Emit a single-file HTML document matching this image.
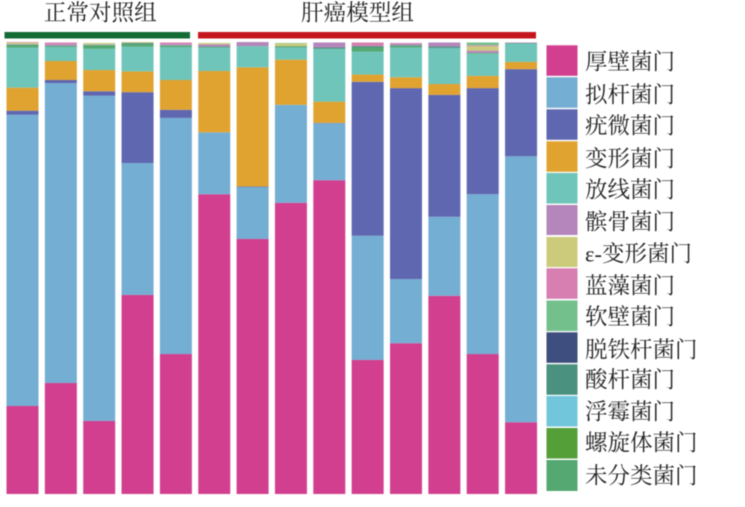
<!DOCTYPE html>
<html lang="zh">
<head>
<meta charset="utf-8">
<title>门水平菌群构成</title>
<style>
html,body{margin:0;padding:0;background:#fff;width:745px;height:507px;overflow:hidden}
svg{display:block;filter:blur(0.4px)}
text{font-family:"Liberation Serif","Noto Serif CJK SC",serif;fill:#222}
.g{font-size:22.6px}
.l{font-size:22.5px;dominant-baseline:central}
</style>
</head>
<body>
<svg id="chart" width="745" height="507" viewBox="0 0 745 507" xmlns="http://www.w3.org/2000/svg">
  <g id="bars"></g>

  <text class="g" x="100.3" y="20.5" text-anchor="middle">正常对照组</text>
  <text class="g" x="357.5" y="20.5" text-anchor="middle">肝癌模型组</text>
  <rect x="4.5" y="32" width="185.5" height="6.5" fill="#156b36"/>
  <rect x="198" y="32" width="338" height="6.5" fill="#c4161c"/>

  <g>
    <rect x="546.5" y="45.3" width="31" height="30.5" fill="#d23f8f"/>
    <rect x="546.5" y="77.3" width="31" height="30.5" fill="#74aed3"/>
    <rect x="546.5" y="109.3" width="31" height="30.5" fill="#5f67b0"/>
    <rect x="546.5" y="141.3" width="31" height="30.5" fill="#e1a330"/>
    <rect x="546.5" y="173" width="31" height="30.5" fill="#6fc5b9"/>
    <rect x="546.5" y="205" width="31" height="30" fill="#b486bb"/>
    <rect x="546.5" y="237" width="31" height="30" fill="#cccb7c"/>
    <rect x="546.5" y="268.3" width="31" height="30.5" fill="#d67fb0"/>
    <rect x="546.5" y="300.5" width="31" height="30.5" fill="#74c08d"/>
    <rect x="546.5" y="332.3" width="31" height="30.5" fill="#3e4e7e"/>
    <rect x="546.5" y="364.3" width="31" height="30.5" fill="#4a927f"/>
    <rect x="546.5" y="396" width="31" height="30.5" fill="#72c6dc"/>
    <rect x="546.5" y="428" width="31" height="30.5" fill="#559f39"/>
    <rect x="546.5" y="460" width="31" height="31" fill="#55a871"/>

    <text class="l" x="585" y="62">厚壁菌门</text>
    <text class="l" x="585" y="95">拟杆菌门</text>
    <text class="l" x="585" y="126">疣微菌门</text>
    <text class="l" x="585" y="159">变形菌门</text>
    <text class="l" x="585" y="190">放线菌门</text>
    <text class="l" x="585" y="222">髌骨菌门</text>
    <text class="l" x="585" y="254">ε-变形菌门</text>
    <text class="l" x="585" y="286">蓝藻菌门</text>
    <text class="l" x="585" y="317">软壁菌门</text>
    <text class="l" x="585" y="350">脱铁杆菌门</text>
    <text class="l" x="585" y="380">酸杆菌门</text>
    <text class="l" x="585" y="412">浮霉菌门</text>
    <text class="l" x="585" y="443">螺旋体菌门</text>
    <text class="l" x="585" y="476">未分类菌门</text>
  </g>
</svg>
<script>
var samples = ["c1","c2","c3","c4","c5","m1","m2","m3","m4","m5","m6","m7","m8","m9"];
var firmicutes = [19.5,24.6,16.2,44.1,31.0,66.4,56.5,64.5,69.5,29.7,33.4,43.9,31.0,15.9];
var bacteroidetes = [64.5,66.4,72.0,29.2,52.3,13.7,11.5,21.7,12.6,27.5,14.2,17.5,35.4,58.9];
var verrucomicrobia = [0.9,0.7,1.0,15.7,1.8,0,0.1,0,0.1,34.1,42.3,27.0,23.5,19.3];
var proteobacteria = [5.1,4.2,4.7,4.6,6.6,13.6,26.4,10.0,4.7,1.6,2.4,2.4,2.7,1.6];
var actinobacteria = [8.9,3.1,4.7,5.5,7.3,5.2,4.7,2.7,11.7,5.1,6.6,8.0,4.9,4.1];
var unclassified = [0.6,0.2,0.8,0.5,0.3,0.1,0,0.2,0,0.9,0.3,0,0.2,0];
var acidobacteria = [0.1,0.1,0.1,0.3,0.1,0.1,0,0.1,0.3,0.3,0.2,0.3,0,0.1];
var tenericutes = [0.1,0.3,0.1,0,0.2,0.5,0.9,0,1.1,0,0.3,0.9,0.5,0];
var epsilon = [0.3,0,0.3,0.2,0,0.3,0,0.6,0,0,0,0,1.0,0];
var cyanobacteria = [0.1,0.4,0,0,0.4,0,0,0,0,0.8,0.2,0,0.2,0.1];
var softWall = [0,0,0,0,0,0,0,0.1,0,0,0,0,0.6,0];

var stackNames = ["firmicutes","bacteroidetes","verrucomicrobia","proteobacteria","actinobacteria","unclassified","acidobacteria","tenericutes","epsilon","cyanobacteria","soft-wall"];
var stackValues = [firmicutes,bacteroidetes,verrucomicrobia,proteobacteria,actinobacteria,unclassified,acidobacteria,tenericutes,epsilon,cyanobacteria,softWall];
var stackColors = ["#d23f8f","#74aed3","#5f67b0","#e1a330","#6fc5b9","#55a871","#4a927f","#b486bb","#cccb7c","#d67fb0","#74c08d"];

function xScale(i){ return 6.5 + i * 38.35; }
function yScale(v){ return 494 - v * 4.515; }

var NS = "http://www.w3.org/2000/svg";
var barsGroup = document.getElementById("bars");
samples.forEach(function(sample, i){
  var cum = 0;
  stackValues.forEach(function(series, s){
    var v = series[i];
    if (v <= 0) { return; }
    var top = yScale(cum + v);
    var bottom = yScale(cum);
    var el = document.createElementNS(NS, "rect");
    
    
    el.setAttribute("x", xScale(i));
    el.setAttribute("y", top);
    el.setAttribute("width", 32);
    el.setAttribute("height", bottom - top);
    el.setAttribute("fill", stackColors[s]);
    barsGroup.appendChild(el);
    cum += v;
  });
});
</script>
</body>
</html>
